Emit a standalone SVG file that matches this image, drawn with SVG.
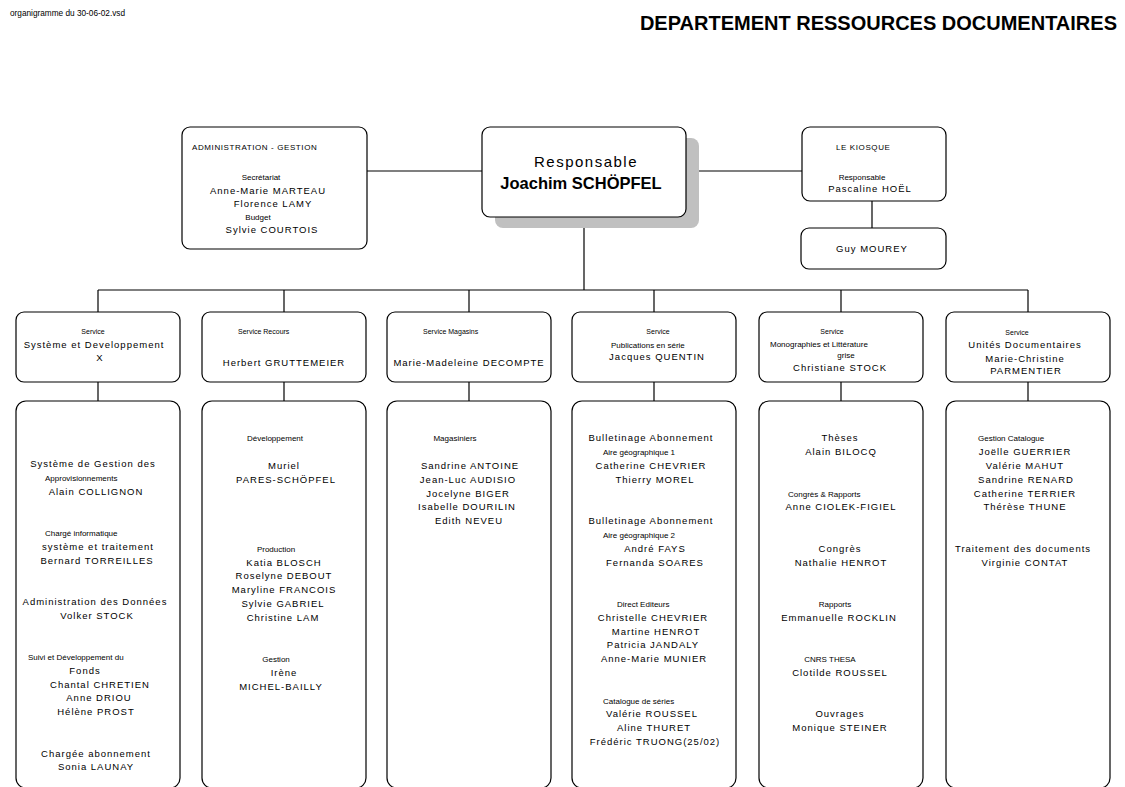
<svg xmlns="http://www.w3.org/2000/svg" width="1125" height="787" viewBox="0 0 1125 787">
<style>
text{font-family:"Liberation Sans",Arial,Helvetica,sans-serif;fill:#000}
.box{fill:#fff;stroke:#000;stroke-width:1.2}
.conn{stroke:#000;stroke-width:1.2;fill:none}
.sm{font-size:8px}
.svc{font-size:7px}
.cap{font-size:8px;letter-spacing:0.6px}
.md{font-size:9.5px;letter-spacing:1px}
.c{text-anchor:middle}
</style>
<rect width="1125" height="787" fill="#fff"/>
<text x="10" y="16" font-size="9" textLength="115" lengthAdjust="spacingAndGlyphs">organigramme du 30-06-02.vsd</text>
<text x="1117" y="30" text-anchor="end" font-size="20" font-weight="bold">DEPARTEMENT RESSOURCES DOCUMENTAIRES</text>

<g id="connectors">
<line class="conn" x1="367" y1="171" x2="482" y2="171"/>
<line class="conn" x1="686" y1="171" x2="802" y2="171"/>
<line class="conn" x1="872" y1="201" x2="872" y2="228"/>
<line class="conn" x1="584" y1="217" x2="584" y2="290"/>
<line class="conn" x1="98" y1="290" x2="1028" y2="290"/>
<line class="conn" x1="98" y1="290" x2="98" y2="312"/>
<line class="conn" x1="284" y1="290" x2="284" y2="312"/>
<line class="conn" x1="469" y1="290" x2="469" y2="312"/>
<line class="conn" x1="654" y1="290" x2="654" y2="312"/>
<line class="conn" x1="841" y1="290" x2="841" y2="312"/>
<line class="conn" x1="1028" y1="290" x2="1028" y2="312"/>
<line class="conn" x1="98" y1="382" x2="98" y2="401"/>
<line class="conn" x1="284" y1="382" x2="284" y2="401"/>
<line class="conn" x1="469" y1="382" x2="469" y2="401"/>
<line class="conn" x1="654" y1="382" x2="654" y2="401"/>
<line class="conn" x1="841" y1="382" x2="841" y2="401"/>
<line class="conn" x1="1028" y1="382" x2="1028" y2="401"/>
</g>

<g id="admin">
<rect class="box" x="182" y="127" width="185" height="122" rx="8"/>
<text class="cap" x="192" y="150">ADMINISTRATION - GESTION</text>
<text class="sm c" x="261" y="179.5">Secrétariat</text>
<text class="md c" x="268" y="193.5">Anne-Marie MARTEAU</text>
<text class="md c" x="273" y="206.5">Florence LAMY</text>
<text class="sm c" x="258" y="219.5">Budget</text>
<text class="md c" x="272" y="232.5">Sylvie COURTOIS</text>
</g>

<g id="responsable">
<rect x="495" y="138" width="204" height="90" rx="8" fill="#c0c0c0"/>
<rect class="box" x="482" y="127" width="204" height="90" rx="8"/>
<text class="c" x="586" y="167" font-size="15" letter-spacing="1.5">Responsable</text>
<text class="c" x="581" y="189" font-size="16.5" font-weight="bold">Joachim SCHÖPFEL</text>
</g>

<g id="kiosque">
<rect class="box" x="802" y="127" width="144" height="74" rx="8"/>
<text class="cap" x="836" y="150">LE KIOSQUE</text>
<text class="sm c" x="862" y="180">Responsable</text>
<text class="md c" x="870" y="192">Pascaline HOËL</text>
</g>

<g id="mourey">
<rect class="box" x="801" y="228" width="145" height="41" rx="8"/>
<text class="md c" x="872" y="252">Guy MOUREY</text>
</g>

<g id="svc1">
<rect class="box" x="16" y="312" width="164" height="70" rx="8"/>
<text class="svc c" x="93" y="334">Service</text>
<text class="md c" x="94" y="348">Système et Developpement</text>
<text class="md c" x="100" y="361">X</text>
</g>
<g id="svc2">
<rect class="box" x="202" y="312" width="164" height="70" rx="8"/>
<text class="svc" x="238" y="334">Service  Recours</text>
<text class="md c" x="284" y="365.5">Herbert GRUTTEMEIER</text>
</g>
<g id="svc3">
<rect class="box" x="387" y="312" width="164" height="70" rx="8"/>
<text class="svc" x="423" y="334">Service Magasins</text>
<text class="md c" x="469" y="365.5">Marie-Madeleine DECOMPTE</text>
</g>
<g id="svc4">
<rect class="box" x="572" y="312" width="164" height="70" rx="8"/>
<text class="svc c" x="658" y="334">Service</text>
<text class="sm" x="611" y="347.5">Publications en série</text>
<text class="md c" x="657" y="360">Jacques QUENTIN</text>
</g>
<g id="svc5">
<rect class="box" x="759" y="312" width="164" height="70" rx="8"/>
<text class="svc c" x="832" y="334">Service</text>
<text class="sm" x="770" y="346.5">Monographies et Littérature</text>
<text class="sm c" x="846" y="358">grise</text>
<text class="md c" x="840" y="371">Christiane STOCK</text>
</g>
<g id="svc6">
<rect class="box" x="946" y="312" width="164" height="70" rx="8"/>
<text class="svc c" x="1017" y="335">Service</text>
<text class="md c" x="1025" y="348">Unités Documentaires</text>
<text class="md c" x="1025" y="362">Marie-Christine</text>
<text class="md c" x="1026" y="374">PARMENTIER</text>
</g>

<g id="col1">
<rect class="box" x="16" y="401" width="164" height="387" rx="10"/>
<text class="md c" x="93" y="467.3">Système de Gestion des</text>
<text class="sm" x="45" y="481.1">Approvisionnements</text>
<text class="md c" x="96" y="494.8">Alain COLLIGNON</text>
<text class="sm" x="45" y="536.2">Chargé informatique</text>
<text class="md c" x="98" y="550">système et traitement</text>
<text class="md c" x="97" y="563.7">Bernard TORREILLES</text>
<text class="md c" x="95" y="605">Administration des Données</text>
<text class="md c" x="97" y="618.8">Volker STOCK</text>
<text class="sm" x="28" y="660.1">Suivi et Développement du</text>
<text class="md c" x="85" y="673.9">Fonds</text>
<text class="md c" x="100" y="687.6">Chantal CHRETIEN</text>
<text class="md c" x="99" y="701.4">Anne DRIOU</text>
<text class="md c" x="96" y="715.2">Hélène PROST</text>
<text class="md c" x="96" y="756.5">Chargée abonnement</text>
<text class="md c" x="96" y="770.3">Sonia LAUNAY</text>
</g>

<g id="col2">
<rect class="box" x="202" y="401" width="164" height="387" rx="10"/>
<text class="sm c" x="275" y="441.3">Développement</text>
<text class="md c" x="284" y="468.9">Muriel</text>
<text class="md c" x="286" y="482.7">PARES-SCHÖPFEL</text>
<text class="sm c" x="276" y="551.7">Production</text>
<text class="md c" x="284" y="565.5">Katia BLOSCH</text>
<text class="md c" x="284" y="579.3">Roselyne DEBOUT</text>
<text class="md c" x="284" y="593.1">Maryline FRANCOIS</text>
<text class="md c" x="283" y="606.9">Sylvie GABRIEL</text>
<text class="md c" x="283" y="620.7">Christine LAM</text>
<text class="sm c" x="276" y="662.1">Gestion</text>
<text class="md c" x="284" y="675.9">Irène</text>
<text class="md c" x="281" y="689.7">MICHEL-BAILLY</text>
</g>

<g id="col3">
<rect class="box" x="387" y="401" width="164" height="387" rx="10"/>
<text class="sm c" x="455" y="441.3">Magasiniers</text>
<text class="md c" x="470" y="468.9">Sandrine ANTOINE</text>
<text class="md c" x="468" y="482.7">Jean-Luc AUDISIO</text>
<text class="md c" x="468" y="496.5">Jocelyne BIGER</text>
<text class="md c" x="467" y="510.3">Isabelle DOURILIN</text>
<text class="md c" x="469" y="524.1">Edith NEVEU</text>
</g>

<g id="col4">
<rect class="box" x="572" y="401" width="164" height="387" rx="10"/>
<text class="md c" x="651" y="441.3">Bulletinage Abonnement</text>
<text class="sm" x="603" y="455.1">Aire géographique 1</text>
<text class="md c" x="651" y="468.9">Catherine CHEVRIER</text>
<text class="md c" x="655" y="482.7">Thierry MOREL</text>
<text class="md c" x="651" y="524.1">Bulletinage Abonnement</text>
<text class="sm" x="603" y="537.9">Aire géographique 2</text>
<text class="md c" x="655" y="551.7">André FAYS</text>
<text class="md c" x="655" y="565.5">Fernanda SOARES</text>
<text class="sm" x="617" y="606.9">Direct Editeurs</text>
<text class="md c" x="653" y="620.7">Christelle CHEVRIER</text>
<text class="md c" x="656" y="634.5">Martine HENROT</text>
<text class="md c" x="653" y="648.3">Patricia JANDALY</text>
<text class="md c" x="654" y="662.1">Anne-Marie MUNIER</text>
<text class="sm" x="603" y="703.5">Catalogue de séries</text>
<text class="md c" x="652" y="717.3">Valérie ROUSSEL</text>
<text class="md c" x="654" y="731.1">Aline THURET</text>
<text class="md c" x="655" y="744.9">Frédéric TRUONG(25/02)</text>
</g>

<g id="col5">
<rect class="box" x="759" y="401" width="164" height="387" rx="10"/>
<text class="md c" x="840" y="441.3">Thèses</text>
<text class="md c" x="841" y="455.1">Alain BILOCQ</text>
<text class="sm" x="788" y="496.5">Congrès &amp; Rapports</text>
<text class="md c" x="841" y="510.3">Anne CIOLEK-FIGIEL</text>
<text class="md c" x="840" y="551.7">Congrès</text>
<text class="md c" x="841" y="565.5">Nathalie HENROT</text>
<text class="sm c" x="835" y="606.9">Rapports</text>
<text class="md c" x="839" y="620.7">Emmanuelle ROCKLIN</text>
<text class="sm c" x="830" y="662.1">CNRS THESA</text>
<text class="md c" x="840" y="675.9">Clotilde ROUSSEL</text>
<text class="md c" x="840" y="717.3">Ouvrages</text>
<text class="md c" x="840" y="731.1">Monique STEINER</text>
</g>

<g id="col6">
<rect class="box" x="946" y="401" width="164" height="387" rx="10"/>
<text class="sm" x="978" y="441.3">Gestion Catalogue</text>
<text class="md c" x="1025" y="455.1">Joëlle GUERRIER</text>
<text class="md c" x="1025" y="468.9">Valérie MAHUT</text>
<text class="md c" x="1026" y="482.7">Sandrine RENARD</text>
<text class="md c" x="1025" y="496.5">Catherine TERRIER</text>
<text class="md c" x="1025" y="510.3">Thérèse THUNE</text>
<text class="md c" x="1023" y="551.7">Traitement des documents</text>
<text class="md c" x="1025" y="565.5">Virginie CONTAT</text>
</g>
</svg>
